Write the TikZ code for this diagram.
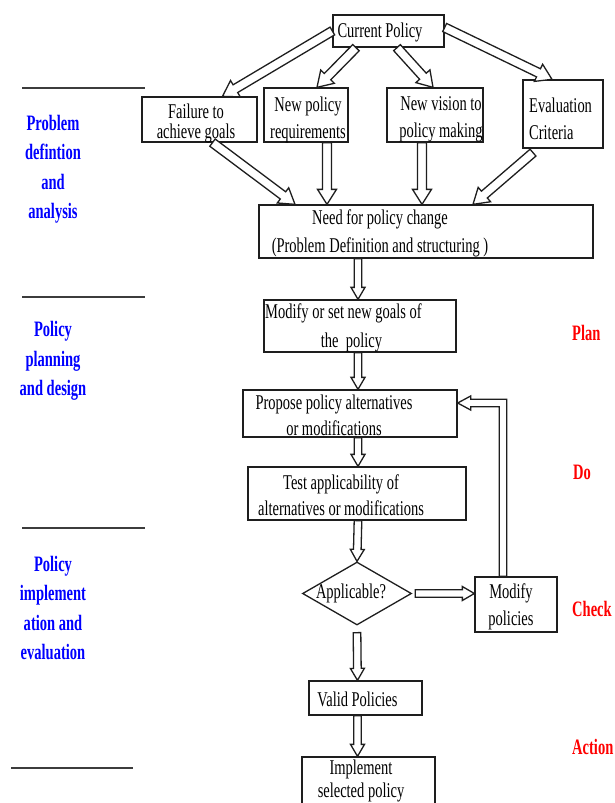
\documentclass[tikz,border=0pt]{standalone}
\usepackage{fontspec}
\setmainfont{Liberation Serif}[FakeStretch=0.69]
\newfontfamily\sidefont{Liberation Serif}[FakeStretch=0.66]
\usetikzlibrary{calc,fit,shapes.geometric}

\definecolor{stagecol}{RGB}{0,0,255}
\definecolor{pdcacol}{RGB}{255,0,0}
\definecolor{inkcol}{RGB}{30,30,30}
\definecolor{rulecol}{RGB}{60,60,60}

% half shaft width, half head width, head length of the hollow block arrows
\def\arrowsw{4.5pt}
\def\arrowhw{9.5pt}
\def\arrowhl{15pt}

% hollow block arrow from #1 to #2 (both coordinates, with parentheses)
\newcommand\hollowarrow[2]{%
  \coordinate (ha-s) at #1;
  \coordinate (ha-e) at #2;
  \coordinate (ha-h) at ($(ha-e)!\arrowhl!(ha-s)$);
  \filldraw[hollow]
    ($(ha-s)!\arrowsw!90:(ha-e)$) -- ($(ha-h)!\arrowsw!90:(ha-e)$)
    -- ($(ha-h)!\arrowhw!90:(ha-e)$) -- (ha-e)
    -- ($(ha-h)!\arrowhw!-90:(ha-e)$) -- ($(ha-h)!\arrowsw!-90:(ha-e)$)
    -- ($(ha-s)!\arrowsw!-90:(ha-e)$) -- cycle;}

\begin{document}
\begin{tikzpicture}[x=1pt,y=-1pt,
  frame/.style={draw=inkcol, line width=1.3pt, inner sep=0pt},
  decision/.style={diamond, draw=inkcol, line width=1.3pt, inner sep=0pt,
    minimum width=109pt, minimum height=63pt},
  boxtext/.style={inner sep=0pt, align=center, text=black,
    font=\fontsize{21}{27}\selectfont},
  stage/.style={inner sep=0pt, align=center, text=stagecol,
    font=\sidefont\bfseries\fontsize{22}{29.5}\selectfont},
  pdca/.style={inner sep=0pt, anchor=west, text=pdcacol,
    font=\sidefont\bfseries\fontsize{22}{26}\selectfont},
  hollow/.style={fill=white, draw=inkcol, line width=1.3pt, line join=miter},
  rule/.style={draw=rulecol, line width=1.6pt}]

\useasboundingbox (0,0) rectangle (614,803);
\fill[white] (0,0) rectangle (614,803);
\clip (0,0) rectangle (614,803);

% stage separators on the left
\draw[rule] (22,88) -- (145,88);
\draw[rule] (22,297) -- (145,297);
\draw[rule] (22,528) -- (145,528);
\draw[rule] (11,768) -- (133,768);

% stage names
\node[stage] (st1) at (53,169) {Problem\\defintion\\and\\analysis};
\node[stage] (st2) at (53,361) {Policy\\planning\\and design};
\node[stage] (st3) at (53,608) {Policy\\implement\\ation and\\evaluation};

% PDCA cycle on the right
\node[pdca] (plan) at (572,333) {Plan};
\node[pdca] (do) at (573,472) {Do};
\node[pdca] (check) at (572,609) {Check};
\node[pdca] (act) at (572,747) {Action};

% boxes
\node[frame, fit={(333,15) (444,47)}] (cur) {};
\node[frame, fit={(142,97) (257,142)}] (fail) {};
\node[frame, fit={(264,88) (348,142)}] (req) {};
\node[frame, fit={(387,88) (483,142)}] (vis) {};
\node[frame, fit={(523,80) (603,148)}] (crit) {};
\node[frame, fit={(259,205) (593,258)}] (need) {};
\node[frame, fit={(264,300) (456,352)}] (goals) {};
\node[frame, fit={(243,390) (457,437)}] (prop) {};
\node[frame, fit={(248,467) (466,520)}] (test) {};
\node[decision] (app) at (357,593.5) {};
\node[frame, fit={(475,577) (557,632)}] (modp) {};
\node[frame, fit={(309,681) (422,715)}] (valid) {};
\node[frame, fit={(302,757) (435,850)}] (impl) {};

% box texts
\node[boxtext] (curtxt) at (380,32) {Current Policy};
\node[boxtext, font=\fontsize{21}{20}\selectfont] (failtxt) at (196,123) {Failure to\\achieve goals};
\node[boxtext] (reqtxt) at (308,120) {New policy\\requirements};
\node[boxtext] (vistxt) at (441,119) {New vision to\\policy making};
\node[boxtext, anchor=west, align=left] (crittxt) at (529,119) {Evaluation\\Criteria};
\node[boxtext, font=\fontsize{21}{28.5}\selectfont] (needtxt) at (380,233.5) {Need for policy change\\(Problem Definition and structuring )};
\node[boxtext, font=\fontsize{21}{29}\selectfont] (goalstxt) at (343.5,328) {Modify or set new goals of\\\hspace*{16pt}the\ \ policy};
\node[boxtext, font=\fontsize{21}{26}\selectfont] (proptxt) at (334,415) {Propose policy alternatives\\or modifications};
\node[boxtext, font=\fontsize{21}{26}\selectfont] (testtxt) at (341,495) {Test applicability of\\alternatives or modifications};
\node[boxtext] (apptxt) at (351,593.5) {Applicable?};
\node[boxtext] (modptxt) at (511,606.5) {Modify\\policies};
\node[boxtext] (validtxt) at (357.5,699) {Valid Policies};
\node[boxtext, font=\fontsize{21}{22.5}\selectfont] (impltxt) at (361,781) {Implement\\selected policy};

% arrows from the current policy
\hollowarrow{(cur.west)}{([xshift=23pt]fail.north)}
\hollowarrow{([xshift=-32.5pt]cur.south)}{([xshift=11pt]req.north)}
\hollowarrow{([xshift=8.5pt]cur.south)}{([xshift=-2pt]vis.north)}
\hollowarrow{([yshift=3.5pt]cur.east)}{([xshift=-11pt]crit.north)}

% arrows into the need for change
\coordinate (reqout) at ([xshift=21pt]req.south);
\coordinate (visout) at ([xshift=-13pt]vis.south);
\hollowarrow{([xshift=13pt]fail.south)}{([xshift=-131pt]need.north)}
\hollowarrow{(reqout)}{(reqout |- need.north)}
\hollowarrow{(visout)}{(visout |- need.north)}
\hollowarrow{([xshift=-30pt,yshift=-4pt]crit.south)}{([xshift=47pt]need.north)}

% main flow
\def\arrowsw{3.8pt}
\def\arrowhw{7pt}
\def\arrowhl{12pt}
\coordinate (col) at (358,0);
\coordinate (colb) at (357.5,0);
\hollowarrow{(need.south -| col)}{(goals.north -| col)}
\hollowarrow{(goals.south -| col)}{(prop.north -| col)}
\hollowarrow{(prop.south -| col)}{(test.north -| col)}
\hollowarrow{(test.south -| col)}{(app.north)}
\hollowarrow{([yshift=-7pt]app.south)}{(valid.north -| colb)}
\hollowarrow{(valid.south -| colb)}{(impl.north -| colb)}
\hollowarrow{([xshift=3pt]app.east)}{(app.east -| modp.west)}

% feedback from the modified policies
\coordinate (fbA) at ([xshift=-13pt]modp.north);
\coordinate (fbT) at ([yshift=10.5pt]prop.east);
\filldraw[hollow] ($(fbA)+(-3.8,0)$) -- ($(fbT -| fbA)+(-3.8,3.8)$)
  -- ($(fbT)+(13,3.8)$) -- ($(fbT)+(13,7)$) -- (fbT)
  -- ($(fbT)+(13,-7)$) -- ($(fbT)+(13,-3.8)$)
  -- ($(fbT -| fbA)+(3.8,-3.8)$) -- ($(fbA)+(3.8,0)$) -- cycle;

\end{tikzpicture}
\end{document}
